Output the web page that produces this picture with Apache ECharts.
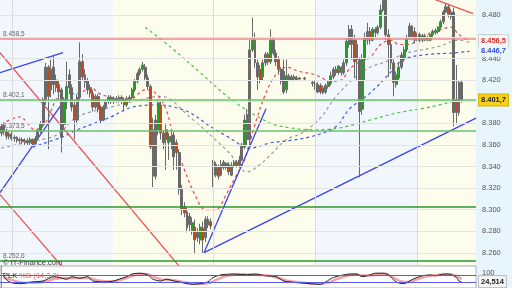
<!DOCTYPE html>
<html><head><meta charset="utf-8">
<script src="https://cdn.jsdelivr.net/npm/echarts@6/dist/echarts.min.js"></script>
<style>html,body{margin:0;padding:0;background:#fff}#c{width:512px;height:288px}</style>
</head><body><div id="c"></div>
<script>
// ---------------- data ----------------
const slotCount = 182;
const categories = Array.from({length: slotCount}, (_, i) => String(i));
// [open, close, low, high]
const ohlc = [
[8377,8371,8368,8380],[8378,8372,8369,8381],[8372,8368,8365,8375],[8368,8370,8365,8372],
[8370,8366,8364,8372],[8366,8367,8363,8369],[8367,8364,8362,8368],[8364,8365,8361,8367],
[8365,8363,8361,8367],[8363,8364,8360,8366],[8364,8362,8360,8366],[8362,8365,8360,8367],
[8365,8361,8359,8366],[8361,8366,8360,8368],[8366,8373,8364,8375],[8373,8379,8371,8382],
[8379,8402,8376,8404],[8402,8432,8397,8436],[8432,8405,8356,8434],[8411,8430,8404,8439],
[8432,8416,8407,8442],[8420,8413,8409,8425],[8416,8409,8402,8420],[8411,8367,8353,8413],
[8379,8400,8374,8404],[8400,8414,8393,8437],[8425,8413,8407,8430],[8413,8395,8391,8416],
[8397,8383,8365,8402],[8383,8404,8379,8407],[8404,8437,8402,8455],[8437,8423,8420,8444],
[8425,8418,8413,8430],[8419,8411,8407,8422],[8413,8408,8404,8416],[8408,8395,8391,8411],
[8395,8405,8393,8407],[8405,8393,8390,8407],[8395,8383,8380,8397],[8383,8395,8382,8397],
[8395,8400,8393,8402],[8400,8404,8398,8406],[8404,8400,8398,8406],[8400,8403,8398,8405],
[8403,8401,8399,8405],[8401,8404,8399,8406],[8404,8401,8398,8406],[8402,8397,8391,8404],
[8397,8403,8395,8405],[8402,8404,8400,8406],[8404,8411,8402,8413],[8411,8419,8409,8421],
[8419,8426,8417,8428],[8426,8430,8424,8432],[8430,8434,8428,8437],[8432,8422,8420,8435],
[8422,8414,8411,8425],[8414,8358,8356,8416],[8374,8331,8321,8385],[8331,8383,8328,8388],
[8374,8399,8369,8402],[8397,8371,8365,8400],[8371,8362,8356,8374],[8374,8365,8337,8379],
[8362,8368,8346,8371],[8368,8363,8356,8372],[8369,8349,8337,8372],[8362,8353,8337,8365],
[8353,8319,8314,8356],[8319,8300,8295,8323],[8303,8297,8293,8307],[8298,8283,8279,8302],
[8294,8286,8280,8297],[8281,8288,8277,8293],[8284,8272,8260,8291],[8280,8274,8270,8283],
[8272,8284,8268,8287],[8283,8272,8260,8289],[8274,8291,8270,8294],[8291,8286,8283,8294],
[8289,8285,8282,8292],
[8335,8345,8321,8346],[8342,8332,8330,8344],[8339,8331,8328,8342],[8332,8342,8331,8346],
[8344,8339,8337,8346],[8339,8343,8337,8344],[8342,8335,8332,8344],[8332,8341,8331,8344],
[8341,8344,8339,8346],[8344,8341,8339,8346],[8341,8346,8339,8350],[8346,8360,8345,8362],
[8358,8383,8356,8388],[8365,8388,8360,8393],[8365,8448,8360,8457],[8448,8457,8446,8478],
[8457,8436,8431,8464],[8436,8423,8411,8439],[8430,8420,8417,8434],[8423,8436,8420,8439],
[8436,8444,8433,8446],[8444,8437,8434,8446],[8437,8457,8435,8467],[8457,8445,8443,8460],
[8445,8437,8433,8448],[8439,8430,8425,8442],[8430,8419,8416,8432],[8428,8409,8407,8439],
[8411,8424,8408,8439],[8424,8420,8419,8426],[8420,8423,8419,8425],[8423,8421,8419,8425],
[8420,8422,8419,8424],[8422,8421,8420,8423],'-',[8422,8421,8420,8423],
'-','-',[8418,8417,8414,8420],
[8417,8413,8411,8420],[8416,8409,8408,8418],[8415,8409,8407,8417],[8413,8408,8407,8415],
[8409,8415,8407,8417],[8414,8418,8412,8420],[8417,8424,8415,8428],[8423,8430,8421,8432],
[8430,8427,8424,8433],[8427,8433,8425,8434],[8432,8427,8424,8433],[8427,8436,8425,8439],
[8436,8456,8433,8459],[8453,8467,8450,8471],[8467,8453,8439,8471],[8457,8437,8422,8462],
[8453,8439,8420,8457],[8439,8391,8330,8441],[8393,8439,8388,8444],[8439,8459,8420,8464],
[8457,8465,8453,8473],[8465,8457,8453,8469],[8457,8467,8456,8469],[8467,8464,8459,8469],
[8464,8469,8462,8471],[8469,8485,8467,8490],[8485,8494,8483,8499],[8494,8462,8457,8499],
[8462,8453,8423,8467],[8453,8436,8430,8457],[8436,8418,8405,8439],[8416,8425,8413,8428],
[8422,8432,8420,8437],[8432,8443,8430,8446],[8441,8448,8437,8451],[8448,8459,8446,8462],
[8459,8470,8457,8473],[8470,8460,8457,8471],[8465,8457,8454,8469],[8457,8462,8456,8464],
[8462,8457,8455,8464],[8457,8461,8455,8463],[8461,8457,8456,8463],[8459,8457,8456,8461],
[8457,8462,8456,8464],[8462,8465,8460,8467],[8464,8466,8462,8468],[8465,8469,8463,8470],
[8469,8474,8467,8476],[8474,8483,8472,8485],[8483,8488,8482,8491],[8488,8481,8478,8490],
[8483,8479,8476,8486],[8483,8390,8377,8487],[8402,8390,8379,8434],[8390,8418,8387,8420],
[8418,8401.7,8399,8420]
];
// moving averages: [slot index, value]
const maRed = [[0,8379],[7,8386],[13,8374],[17,8381],[21,8402],[24,8407],[30,8408],[34,8413],[38,8407],[44,8403],[49,8402],[55,8411],[59,8408],[63,8393],[66,8365],[70,8337],[74,8314],[78,8300],[82,8300],[86,8314],[89,8328],[93,8346],[97,8379],[101,8407],[105,8425],[109,8432],[114,8428],[120,8425],[126,8419],[130,8420],[133,8430],[137,8437],[141,8441],[145,8453],[149,8457],[152,8453],[156,8453],[160,8459],[166,8465],[172,8469],[175,8462],[179,8456.5]];
const maGray = [[0,8357],[11,8363],[21,8369],[29,8386],[42,8395],[50,8400],[61,8405],[72,8386],[87,8353],[94,8335],[99,8342],[103,8351],[109,8365],[115,8371],[122,8385],[128,8405],[135,8422],[141,8432],[147,8437],[155,8445],[167,8451],[175,8457],[179,8455]];
const maBlue = [[12,8358],[24,8368],[29,8374],[42,8386],[50,8395],[61,8397],[66,8395],[72,8390],[80,8377],[87,8367],[95,8357],[103,8362],[110,8364],[119,8368],[128,8377],[133,8393],[141,8408],[148,8425],[152,8436],[156,8441],[164,8444],[172,8445],[179,8446.7]];
const maGreen = [[55,8469],[65,8450],[76,8427],[88,8402],[102,8381],[110,8376],[120,8374],[130,8376],[141,8383],[152,8390],[164,8395],[175,8402]];
// horizontal levels
const resistance = [8458.5];
const supports = [8402.1, 8373.5, 8302.6, 8252.6];
// trend lines: [slot, price] pairs
const trendRed = [[[-0.5,8445.4],[69.1,8244.5]], [[-0.5,8314],[23.6,8246.3]], [[163.9,8496.4],[180.4,8481.5]]];
const trendBlue = [[[-0.5,8426.9],[23.6,8445.4]], [[-0.5,8315.8],[25.1,8404.7]], [[77.5,8260.2],[101.2,8393.6]], [[77.5,8260.2],[181.5,8384.8]]];
// session separators and shaded periods
const sessionBreaks = [4.1, 80.9, 119.9, 158.9];
const bandEdges = [-0.5, 42.8, 119.9, 158.9, 181.5];
const priceTicks = [8260,8280,8300,8320,8340,8360,8380,8400,8420,8440,8460,8480];
// value tags on the right
const lastPrice = 8401.7, redMaLast = 8456.5, blueMaLast = 8446.7;
// stochastic
const stochK = [[1,69],[3,22],[7,6],[12,22],[16,30],[20,69],[22,62],[25,46],[27,69],[30,54],[33,69],[35,30],[40,22],[43,30],[45,46],[48,69],[50,93],[53,100],[56,85],[58,46],[61,30],[63,46],[66,30],[68,22],[71,6],[73,0],[76,6],[79,22],[81,62],[84,85],[89,93],[94,85],[97,93],[101,77],[105,69],[108,30],[110,22],[114,14],[118,6],[122,0],[124,22],[127,62],[131,85],[133,93],[136,93],[138,69],[141,85],[143,100],[146,100],[148,85],[151,22],[154,6],[156,30],[159,62],[161,77],[164,85],[166,77],[169,93],[171,93],[174,62],[175,30],[176,22]];
const stochD = [[1,60],[4,40],[8,15],[13,15],[17,25],[21,55],[24,58],[27,55],[31,58],[34,55],[37,35],[41,25],[44,30],[47,50],[50,75],[53,92],[56,90],[59,60],[62,40],[65,38],[68,28],[71,15],[74,5],[77,5],[80,15],[83,50],[86,75],[90,88],[95,88],[99,85],[103,75],[107,50],[110,30],[114,18],[118,8],[122,5],[125,15],[128,45],[132,75],[135,90],[138,80],[141,80],[144,92],[147,95],[150,60],[153,25],[156,20],[159,45],[162,68],[165,80],[168,85],[171,90],[174,75],[176,45]];
const stochLevels = [80, 20];
const stochLast = 24.514;

// ---------------- helpers ----------------
function fmtPrice(v, dec) {
  const s = dec ? v.toFixed(1) : String(Math.round(v));
  const parts = s.split('.');
  const ip = parts[0];
  let out = ip.slice(0, ip.length - 3) + '.' + ip.slice(-3);
  if (parts[1]) out += ',' + parts[1];
  return out;
}
const FONT = 'Liberation Sans';
const chart = echarts.init(document.getElementById('c'), null, {renderer: 'canvas'});

function tag(value, text, color, bg, border) {
  return {
    yAxis: value,
    lineStyle: {color: 'rgba(0,0,0,0)', width: 1},
    label: {show: true, position: 'end', distance: 3, formatter: text, color: color,
      backgroundColor: bg, borderColor: border, borderWidth: border ? 1 : 0,
      padding: [2, 2, 1, 2], fontSize: 7.5, fontFamily: FONT, fontWeight: 'bold'}
  };
}

const series = [];
// background bands + grid lines
const bandColors = ['#f1f7fc', '#fdfdee', '#f1f7fc', '#fdfdee'];
series.push({
  type: 'line', xAxisIndex: 1, yAxisIndex: 0, data: [], silent: true, z: 0,
  markArea: {silent: true, data: bandEdges.slice(0, -1).map((e, i) => [
    {xAxis: e, itemStyle: {color: bandColors[i]}}, {xAxis: bandEdges[i + 1]}])},
  markLine: {silent: true, symbol: ['none', 'none'], label: {show: false},
    data: priceTicks.map(v => ({yAxis: v, lineStyle: {color: '#e4e4e4', width: 1, type: 'solid'}}))
      .concat(sessionBreaks.map(v => ({xAxis: v, lineStyle: {color: '#dcdcdc', width: 1, type: 'solid'}})))}
});
// horizontal support / resistance
const levelMarks = [];
resistance.forEach(v => levelMarks.push({yAxis: v, lineStyle: {color: '#f08888', width: 1.5, type: 'solid'},
  label: {show: true, position: 'insideStartTop', formatter: fmtPrice(v, true), color: '#666', fontSize: 6.5, fontFamily: FONT, distance: [3, 1]}}));
supports.forEach((v, i) => levelMarks.push({yAxis: v, lineStyle: {color: i < 2 ? '#6cbf6c' : '#2a9a2a', width: 1.5, type: 'solid'},
  label: {show: i !== 2, position: 'insideStartTop', formatter: fmtPrice(v, true), color: '#666', fontSize: 6.5, fontFamily: FONT, distance: [3, 1]}}));
series.push({
  type: 'line', xAxisIndex: 1, yAxisIndex: 0, data: [], silent: true, z: 1,
  markLine: {silent: true, symbol: ['none', 'none'], data: levelMarks}
});
// moving averages
[[maGreen, '#4cc04c'], [maBlue, '#3d5be0'], [maGray, '#9a9a9a'], [maRed, '#e84848']].forEach(([d, c]) => {
  series.push({type: 'line', xAxisIndex: 1, yAxisIndex: 0, data: d, smooth: 0.35, showSymbol: false, silent: true, z: 2,
    lineStyle: {color: c, width: 1.2, type: [3, 3]}});
});
// trend lines
trendRed.forEach(d => series.push({type: 'line', xAxisIndex: 1, yAxisIndex: 0, data: d, showSymbol: false, silent: true, z: 3,
  lineStyle: {color: '#f05050', width: 1.3}}));
trendBlue.forEach(d => series.push({type: 'line', xAxisIndex: 1, yAxisIndex: 0, data: d, showSymbol: false, silent: true, z: 3,
  lineStyle: {color: '#3a44ee', width: 1.3}}));
// candles
series.push({
  type: 'candlestick', xAxisIndex: 0, yAxisIndex: 0, data: ohlc, barWidth: 2.4, z: 4, silent: true,
  itemStyle: {color: '#1ea31e', color0: '#c0461e', borderColor: '#6a6a6a', borderColor0: '#6a6a6a', borderWidth: 1},
  markLine: {silent: true, symbol: ['none', 'none'], data: [
    tag(redMaLast, fmtPrice(redMaLast, true), '#e02a2a', '#f7f7f7', '#cfcfcf'),
    tag(blueMaLast, fmtPrice(blueMaLast, true), '#2f4fd8', '#eef6fb', null),
    tag(lastPrice, fmtPrice(lastPrice, true), '#222', '#f7d21a', '#d0b000')
  ]}
});
// stochastic
series.push({type: 'line', xAxisIndex: 2, yAxisIndex: 1, data: stochD, smooth: 0.3, showSymbol: false, silent: true, z: 2,
  lineStyle: {color: '#f3a3a3', width: 2.5},
  markLine: {silent: true, symbol: ['none', 'none'], label: {show: false},
    data: stochLevels.map(v => ({yAxis: v, lineStyle: {color: '#5a5ae8', width: 1, type: 'solid'}}))}
});
series.push({type: 'line', xAxisIndex: 2, yAxisIndex: 1, data: stochK, smooth: 0.3, showSymbol: false, silent: true, z: 3,
  lineStyle: {color: '#222', width: 1},
  markLine: {silent: true, symbol: ['none', 'none'], data: [
    tag(stochLast, stochLast.toFixed(3).replace('.', ','), '#222', '#f4f4f4', '#bdbdbd')]}
});

const option = {
  animation: false,
  backgroundColor: '#e6f6fc',
  textStyle: {fontFamily: FONT},
  grid: [
    {left: 0, top: 0, width: 476, height: 265, show: true, backgroundColor: '#ffffff', borderWidth: 0},
    {left: 0, top: 266, width: 476, height: 24, show: true, backgroundColor: '#ffffff', borderColor: '#b0b0b0', borderWidth: 1}
  ],
  xAxis: [
    {type: 'category', gridIndex: 0, data: categories, boundaryGap: true, show: false},
    {type: 'value', gridIndex: 0, min: -0.5, max: slotCount - 0.5, show: false},
    {type: 'value', gridIndex: 1, min: -0.5, max: slotCount - 0.5, show: false}
  ],
  yAxis: [
    {type: 'value', gridIndex: 0, position: 'right', min: 8248.8, max: 8494.2, scale: true,
      axisLine: {show: true, lineStyle: {color: '#9c9c9c'}},
      axisTick: {show: true, customValues: priceTicks, length: 3, inside: false, lineStyle: {color: '#9c9c9c'}},
      axisLabel: {show: true, customValues: priceTicks, formatter: v => fmtPrice(v, false), color: '#555', fontSize: 7.5, fontFamily: FONT, margin: 6},
      splitLine: {show: false}},
    {type: 'value', gridIndex: 1, position: 'right', min: -33, max: 165,
      axisLine: {show: true, lineStyle: {color: '#9c9c9c'}},
      axisTick: {show: true, customValues: [100], length: 3, lineStyle: {color: '#9c9c9c'}},
      axisLabel: {show: true, customValues: [100], color: '#555', fontSize: 7.5, fontFamily: FONT, margin: 6},
      splitLine: {show: false}}
  ],
  graphic: [
    {type: 'text', left: 3, top: 259, z: 10, style: {text: '© IT-Finance.com', fill: '#444', font: '7.5px "Liberation Sans"'}},
    {type: 'text', left: 3, top: 272, z: 10, style: {
      text: '{a|PLK} {b|%D (14,3,3)}', font: '7.5px "Liberation Sans"',
      rich: {a: {fill: '#222', font: '7.5px "Liberation Sans"'}, b: {fill: '#e86060', font: '7.5px "Liberation Sans"'}}}}
  ],
  series: series
};
chart.setOption(option);
</script>
</body></html>
